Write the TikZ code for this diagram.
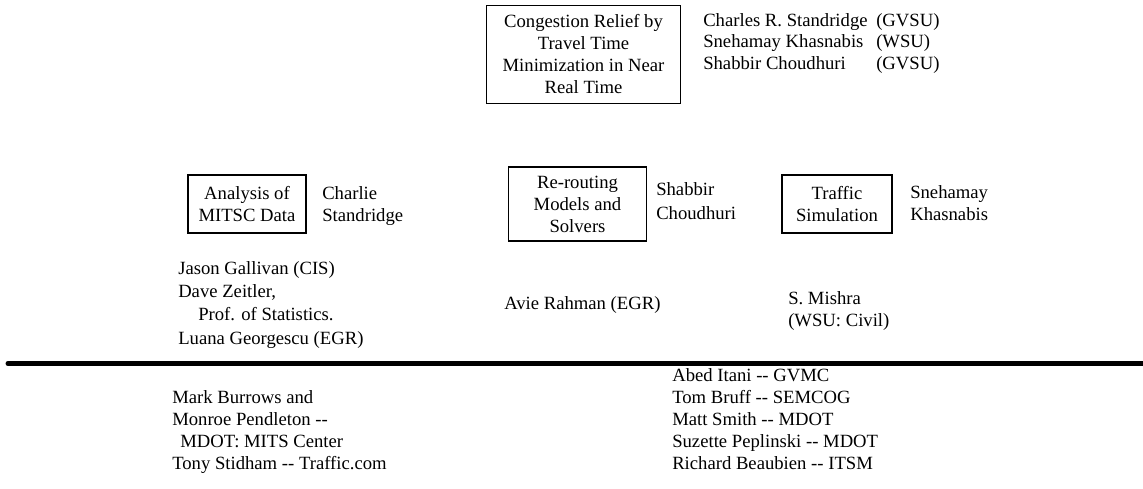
\documentclass[tikz,border=0pt]{standalone}
\usepackage{fontspec}
\setmainfont{Liberation Serif}[Ligatures=TeXOff]
\usetikzlibrary{positioning}

\tikzset{
	task/.style={shape=rectangle,draw=black,line width=0.8pt,align=center,inner sep=0pt,
		font=\fontsize{14}{16.5}\selectfont},
	names/.style={anchor=north west,inner sep=0pt,align=left,
		font=\fontsize{14}{16.5}\selectfont}
}

\begin{document}
\begin{tikzpicture}[x=0.75pt,y=-0.75pt]
	\useasboundingbox (0,0) rectangle (1143,489);

	% project and its people
	\node[task,minimum width=146pt,minimum height=73pt] (relief) at (583.5, 54.5) {Congestion Relief by\\Travel Time\\Minimization in Near\\Real Time};
	\node[names,font=\fontsize{14}{16.1}\selectfont] (pi) at (703, 13) {Charles R. Standridge\\Snehamay Khasnabis\\Shabbir Choudhuri};
	\node[names,font=\fontsize{14}{16.1}\selectfont] (pischool) at (876, 13) {(GVSU)\\(WSU)\\(GVSU)};

	% the three tasks
	\node[task,minimum width=88.5pt,minimum height=43.5pt] (mitsc) at (247, 204) {Analysis of\\MITSC Data};
	\node[task,minimum width=104pt,minimum height=55.5pt] (reroute) at (577.5, 204) {Re-routing\\Models and\\Solvers};
	\node[task,minimum width=82.5pt,minimum height=43.5pt] (sim) at (837, 204) {Traffic\\Simulation};

	\node[names] (charlie) at (322, 186) {Charlie\\Standridge};
	\node[names,font=\fontsize{14}{18}\selectfont] (shabbir) at (656, 182) {Shabbir\\Choudhuri};
	\node[names] (sneh) at (910, 185) {Snehamay\\Khasnabis};

	\node[names,font=\fontsize{14}{17.5}\selectfont] (team1) at (178, 261) {Jason Gallivan (CIS)\\Dave Zeitler,\\\hspace*{15pt}Prof. of Statistics.\\Luana Georgescu (EGR)};
	\node[names] (team2) at (504, 296) {Avie Rahman (EGR)};
	\node[names] (team3) at (788, 291) {S. Mishra\\(WSU: Civil)};

	% partners below the rule
	\coordinate (rulel) at (8, 363.5);
	\coordinate (ruler) at (1143, 363.5);
	\draw[line width=3.75pt,line cap=round] (rulel) -- (ruler);

	\node[names] (mdot) at (172, 390) {Mark Burrows and\\Monroe Pendleton --\\\hspace*{6pt}MDOT: MITS Center\\Tony Stidham -- Traffic.com};
	\node[names] (agencies) at (672, 368) {Abed Itani -- GVMC\\Tom Bruff -- SEMCOG\\Matt Smith -- MDOT\\Suzette Peplinski -- MDOT\\Richard Beaubien -- ITSM};
\end{tikzpicture}
\end{document}
